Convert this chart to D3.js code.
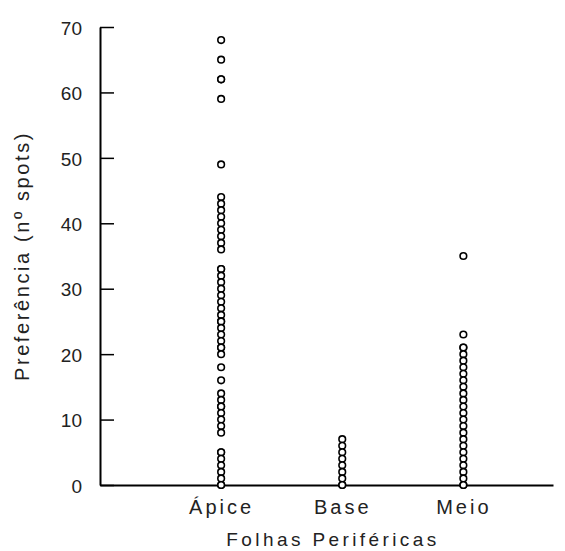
<!DOCTYPE html>
<html>
<head>
<meta charset="utf-8">
<script src="https://cdn.jsdelivr.net/npm/d3@7/dist/d3.min.js"></script>
<style>
  html, body { margin: 0; padding: 0; background: #fff; }
  svg { display: block; }
  text { font-family: "Liberation Sans", Arial, sans-serif; fill: #222; }
</style>
</head>
<body>
<svg id="chart" width="565" height="551"></svg>
<script>
// Categories along the x axis
const categories = ["Ápice", "Base", "Meio"];

// Number of spots per observation, one array per leaf position
const apiceValues = [68, 65, 62, 62, 59, 49,
  44, 43, 42, 41, 40, 39, 38, 37, 36,
  33, 33, 32, 31, 30, 29, 28, 27, 26, 25, 25, 24, 23, 22, 21, 21, 20,
  18, 16, 14, 13, 12, 12, 11, 10, 9, 8,
  5, 5, 4, 3, 2, 1, 0, 0];
const baseValues = [7, 6, 5, 4, 3, 2, 1, 0, 0];
const meioValues = [35, 23, 21, 21, 20, 19, 18, 17, 16, 15, 14, 13, 12, 11,
  10, 9, 8, 7, 6, 5, 4, 3, 2, 1, 0, 0];

// Y axis ticks
const yTicks = [0, 10, 20, 30, 40, 50, 60, 70];

const seriesByCategory = [apiceValues, baseValues, meioValues];

const svg = d3.select("#chart");

// Categories sit at positions 1..3 on a continuous x scale so the axis
// line can run well past the last category.
const x = d3.scaleLinear().domain([0, 3.74]).range([100, 553]);
const y = d3.scaleLinear().domain([0, 70]).range([485, 27]);

// Y axis with inward ticks
const yAxis = d3.axisLeft(y)
  .tickValues(yTicks)
  .tickSizeInner(-14)
  .tickSizeOuter(0)
  .tickPadding(18)
  .tickFormat(d3.format("d"));

const gy = svg.append("g")
  .attr("transform", `translate(${x(0)},0)`)
  .call(yAxis);
gy.select(".domain").attr("stroke", "#000").attr("stroke-width", 2);
gy.selectAll(".tick line").attr("stroke", "#000").attr("stroke-width", 1.5);
gy.selectAll(".tick text")
  .attr("font-size", 19)
  .attr("dy", "0.38em")
  .style("font-family", "'Liberation Sans', Arial, sans-serif")
  .attr("fill", "#333");

// X axis with category labels
const xAxis = d3.axisBottom(x)
  .tickValues([1, 2, 3])
  .tickSizeInner(4)
  .tickSizeOuter(0)
  .tickPadding(11)
  .tickFormat(d => categories[d - 1]);

const gx = svg.append("g")
  .attr("transform", `translate(0,${y(0)})`)
  .call(xAxis);
gx.select(".domain").attr("stroke", "#000").attr("stroke-width", 2);
gx.selectAll(".tick line").attr("stroke", "#000").attr("stroke-width", 2.5);
gx.selectAll(".tick text")
  .attr("font-size", 20)
  .style("letter-spacing", "3px")
  .style("font-family", "'Liberation Sans', Arial, sans-serif")
  .attr("fill", "#333");

// Axis titles
svg.append("text")
  .attr("x", 333)
  .attr("y", 546)
  .attr("text-anchor", "middle")
  .attr("font-size", 19)
  .attr("fill", "#333")
  .style("letter-spacing", "3.4px")
  .text("Folhas Periféricas");

svg.append("text")
  .attr("transform", `translate(29,256) rotate(-90)`)
  .attr("text-anchor", "middle")
  .attr("font-size", 20)
  .attr("fill", "#333")
  .style("letter-spacing", "2.6px")
  .text("Preferência (nº spots)");

// Open circle markers, one per observation
const points = seriesByCategory.flatMap((vals, i) =>
  vals.map(v => ({ cat: i + 1, value: v })));

svg.append("g")
  .selectAll("circle")
  .data(points)
  .join("circle")
  .attr("cx", d => x(d.cat))
  .attr("cy", d => y(d.value))
  .attr("r", 3.3)
  .attr("fill", "#fff")
  .attr("stroke", "#000")
  .attr("stroke-width", 1.6);
</script>
</body>
</html>
